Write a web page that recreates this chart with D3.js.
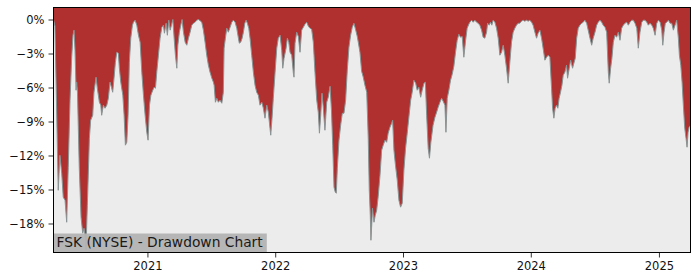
<!DOCTYPE html>
<html lang="en">
<head>
<meta charset="utf-8">
<title>FSK (NYSE) - Drawdown Chart</title>
<script src="https://cdn.jsdelivr.net/npm/d3@7"></script>
<style>
  body { margin: 0; background: #fff; }
  svg { display: block; font-family: "DejaVu Sans", sans-serif; }
</style>
</head>
<body>
<svg id="chart" width="700" height="280"></svg>
<script>
// dates as decimal years, drawdown in percent
const dateYears = [
  2020.267,2020.278,2020.290,2020.304,2020.317,2020.331,2020.343,2020.357,2020.370,2020.382,
  2020.396,2020.409,2020.419,2020.427,2020.435,2020.443,2020.448,2020.454,2020.468,2020.482,
  2020.495,2020.505,2020.515,2020.521,2020.526,2020.531,2020.547,2020.557,2020.573,2020.583,
  2020.599,2020.609,2020.625,2020.636,2020.643,2020.656,2020.669,2020.683,2020.695,2020.708,
  2020.719,2020.729,2020.740,2020.750,2020.761,2020.773,2020.781,2020.792,2020.808,2020.818,
  2020.828,2020.839,2020.849,2020.859,2020.870,2020.883,2020.891,2020.904,2020.917,2020.930,
  2020.943,2020.956,2020.969,2020.982,2020.995,2021.005,2021.016,2021.027,2021.042,2021.052,
  2021.063,2021.073,2021.086,2021.099,2021.113,2021.125,2021.133,2021.146,2021.156,2021.167,
  2021.178,2021.188,2021.199,2021.209,2021.219,2021.230,2021.238,2021.250,2021.261,2021.271,
  2021.282,2021.295,2021.308,2021.321,2021.334,2021.347,2021.360,2021.373,2021.386,2021.399,
  2021.412,2021.425,2021.438,2021.451,2021.464,2021.477,2021.490,2021.504,2021.516,2021.522,
  2021.532,2021.543,2021.555,2021.568,2021.582,2021.594,2021.600,2021.610,2021.621,2021.633,
  2021.647,2021.660,2021.672,2021.686,2021.699,2021.712,2021.719,2021.730,2021.741,2021.751,
  2021.762,2021.772,2021.782,2021.793,2021.803,2021.816,2021.829,2021.842,2021.855,2021.868,
  2021.881,2021.895,2021.907,2021.920,2021.934,2021.946,2021.959,2021.965,2021.975,2021.985,
  2021.999,2022.012,2022.024,2022.038,2022.051,2022.059,2022.069,2022.085,2022.095,2022.106,
  2022.116,2022.129,2022.142,2022.147,2022.155,2022.168,2022.181,2022.194,2022.207,2022.220,
  2022.233,2022.246,2022.259,2022.272,2022.285,2022.298,2022.311,2022.325,2022.337,2022.346,
  2022.356,2022.366,2022.376,2022.389,2022.403,2022.415,2022.429,2022.440,2022.450,2022.460,
  2022.470,2022.478,2022.486,2022.499,2022.512,2022.525,2022.538,2022.551,2022.564,2022.577,
  2022.590,2022.603,2022.616,2022.630,2022.642,2022.650,2022.663,2022.676,2022.689,2022.702,
  2022.716,2022.728,2022.736,2022.744,2022.749,2022.755,2022.761,2022.773,2022.783,2022.794,
  2022.806,2022.820,2022.833,2022.845,2022.859,2022.872,2022.884,2022.898,2022.911,2022.919,
  2022.929,2022.941,2022.955,2022.968,2022.981,2022.994,2023.007,2023.020,2023.033,2023.046,
  2023.060,2023.072,2023.085,2023.099,2023.111,2023.124,2023.138,2023.150,2023.164,2023.175,
  2023.185,2023.197,2023.207,2023.218,2023.235,2023.250,2023.263,2023.275,2023.289,2023.302,
  2023.314,2023.328,2023.336,2023.346,2023.359,2023.372,2023.385,2023.398,2023.411,2023.424,
  2023.437,2023.450,2023.463,2023.476,2023.490,2023.502,2023.515,2023.523,2023.537,2023.549,
  2023.562,2023.576,2023.588,2023.601,2023.615,2023.627,2023.640,2023.654,2023.662,2023.674,
  2023.685,2023.695,2023.705,2023.719,2023.732,2023.745,2023.758,2023.771,2023.784,2023.797,
  2023.810,2023.823,2023.836,2023.849,2023.862,2023.875,2023.888,2023.901,2023.914,2023.927,
  2023.940,2023.953,2023.967,2023.979,2023.992,2024.006,2024.018,2024.032,2024.045,2024.057,
  2024.071,2024.084,2024.096,2024.110,2024.123,2024.136,2024.149,2024.162,2024.170,2024.180,
  2024.190,2024.201,2024.211,2024.221,2024.232,2024.243,2024.253,2024.266,2024.279,2024.287,
  2024.300,2024.311,2024.326,2024.336,2024.347,2024.358,2024.370,2024.383,2024.397,2024.409,
  2024.422,2024.436,2024.448,2024.462,2024.475,2024.487,2024.501,2024.514,2024.526,2024.540,
  2024.553,2024.565,2024.579,2024.592,2024.605,2024.612,2024.623,2024.633,2024.644,2024.657,
  2024.670,2024.683,2024.696,2024.709,2024.722,2024.735,2024.748,2024.761,2024.774,2024.788,
  2024.800,2024.813,2024.827,2024.839,2024.852,2024.866,2024.878,2024.892,2024.905,2024.917,
  2024.931,2024.944,2024.956,2024.970,2024.983,2024.996,2025.009,2025.022,2025.030,2025.040,
  2025.050,2025.061,2025.074,2025.087,2025.100,2025.113,2025.126,2025.139,2025.152,2025.160,
  2025.171,2025.181,2025.191,2025.202,2025.212,2025.220,2025.228,2025.236,2025.247
];

const drawdownPct = [
  0,-0.59,-7.12,-15.07,-11.98,-13.56,-15.68,-15.95,-17.89,-13.04,
  -7.12,-3.33,-1.39,-0.94,-2.71,-6.24,-5.53,-6.42,-13.04,-17.45,
  -18.86,-18.42,-19.21,-20.36,-18.16,-16.39,-10.48,-8.89,-8.45,-6.42,
  -5.09,-6.06,-7.3,-7.56,-8.45,-7.56,-7.83,-7.56,-6.95,-5.53,
  -5.98,-6.42,-5.09,-3.77,-2.89,-2.97,-4.3,-5.53,-6.68,-8.45,
  -11.09,-10.83,-8.45,-3.77,-1.65,-0.5,-0.24,-0.06,-0.5,-1.39,
  -2.0,-4.65,-6.68,-8.45,-9.95,-10.65,-7.56,-6.68,-6.24,-5.98,
  -6.06,-4.65,-3.15,-1.65,-0.68,-0.5,-1.21,-0.33,-1.39,-0.06,
  -0.94,-0.5,0,-1.65,-3.15,-4.3,-2.27,-1.12,-0.5,0,
  -1.12,-2.0,-2.27,-1.65,-1.12,-0.5,-0.33,-0.24,-0.06,0,
  -0.1,-0.24,-0.94,-2.0,-3.15,-4.03,-4.65,-5.18,-5.53,-5.8,
  -7.3,-6.95,-7.3,-7.12,-7.39,-6.42,-2.53,-1.65,-0.77,-1.12,
  -0.68,-0.24,-0.06,-0.24,-0.77,-1.65,-2.09,-2.0,-1.65,-1.12,
  -0.33,-0.06,-0.33,-0.77,-1.65,-3.15,-4.65,-5.8,-6.42,-6.68,
  -7.56,-7.3,-7.83,-8.71,-7.56,-8.18,-9.59,-10.21,-8.71,-6.95,
  -4.65,-2.53,-1.65,-1.39,-2.71,-4.3,-3.42,-2.53,-1.65,-2.0,
  -2.89,-3.15,-4.74,-5.09,-2.09,-1.12,-1.5,-2.89,-0.94,-0.68,
  -0.41,-0.24,-0.59,-0.77,-0.86,-2.0,-4.65,-7.12,-8.18,-10.03,
  -8.45,-6.5,-7.74,-9.77,-7.3,-6.86,-5.89,-8.0,-11.09,-14.8,
  -15.24,-15.33,-13.12,-10.65,-9.33,-8.27,-8.27,-7.12,-4.47,-2.44,
  -1.39,-0.68,-0.33,-0.94,-1.5,-2.0,-2.89,-4.56,-5.09,-5.8,
  -6.42,-10.48,-15.07,-17.27,-19.48,-18.16,-16.65,-17.89,-17.27,-16.83,
  -15.6,-13.74,-11.53,-11.09,-10.65,-10.83,-10.03,-9.5,-9.15,-8.89,
  -11.53,-12.86,-14.18,-15.95,-16.56,-16.21,-13.3,-11.36,-10.03,-8.62,
  -7.12,-6.42,-5.36,-5.62,-6.24,-5.98,-6.86,-6.24,-5.62,-5.53,
  -8.45,-11.36,-12.24,-10.83,-9.33,-8.62,-8.18,-7.74,-7.3,-6.95,
  -7.21,-7.56,-9.95,-6.95,-6.24,-5.36,-4.83,-4.12,-2.89,-1.83,
  -1.3,-1.56,-1.5,-3.33,-1.83,-0.77,-0.41,-0.24,-0.06,-0.24,
  -0.06,-0.24,-0.33,-0.5,-0.94,-1.56,-1.65,-1.12,-0.33,-0.5,
  -0.24,-0.5,-0.06,-0.24,-0.77,-1.65,-3.15,-2.89,-2.27,-3.15,
  -4.3,-5.62,-3.77,-2.0,-1.12,-0.77,-0.5,-0.33,-0.33,-0.15,
  -0.06,-0.15,-0.06,-0.15,-0.06,-0.24,-0.5,-1.12,-1.65,-1.21,
  -0.94,-1.65,-2.53,-3.59,-3.33,-3.15,-3.33,-6.06,-7.83,-8.71,
  -7.83,-7.56,-7.83,-6.95,-6.42,-5.8,-4.92,-4.65,-4.03,-5.18,
  -4.3,-3.59,-4.3,-3.86,-3.42,-1.65,-0.77,-0.5,-0.33,-0.24,
  -0.06,-0.33,-0.94,-1.65,-2.27,-1.65,-1.12,-0.5,-0.24,-0.06,
  -0.24,-0.5,-0.68,-1.12,-4.65,-5.62,-4.3,-3.42,-2.0,-1.39,
  -1.56,-1.12,-1.83,-0.77,-0.5,-0.33,-0.24,-0.5,-0.24,-0.06,
  -0.06,-0.33,-0.77,-2.53,-1.12,-0.24,-0.06,-0.06,-0.24,-0.5,
  -0.33,-0.5,-0.77,-1.39,-0.33,-0.06,-0.24,-0.94,-2.27,-1.12,
  -0.33,-0.24,-0.06,-0.33,-0.33,-0.94,-0.5,-0.06,-1.65,-3.15,
  -4.03,-5.53,-7.56,-9.59,-10.48,-11.27,-9.95,-9.5,-9.33
];

const yTicks = [0, -3, -6, -9, -12, -15, -18];
const xTickYears = [2021, 2022, 2023, 2024, 2025];
const yLimits = [-20.56, 1.06];
const chartTitle = "FSK (NYSE) - Drawdown Chart";

function yearToDate(t) {
  const yr = Math.floor(t);
  const a = Date.UTC(yr, 0, 1), b = Date.UTC(yr + 1, 0, 1);
  return new Date(a + (t - yr) * (b - a));
}

const data = dateYears.map((t, i) => ({ date: yearToDate(t), dd: drawdownPct[i] }));

const W = 700, H = 280;
const m = { left: 53.5, right: 9.5, top: 7.5, bottom: 27.5 };

const x = d3.scaleUtc()
  .domain(d3.extent(data, d => d.date))
  .range([m.left, W - m.right]);
const y = d3.scaleLinear()
  .domain(yLimits)
  .range([H - m.bottom, m.top]);

const svg = d3.select("#chart");

svg.append("rect")
  .attr("x", m.left).attr("y", m.top)
  .attr("width", W - m.left - m.right).attr("height", H - m.top - m.bottom)
  .attr("fill", "#ececec");

// red fill from the top of the axes down to the drawdown curve
const area = d3.area()
  .x(d => x(d.date))
  .y0(m.top)
  .y1(d => y(d.dd));

svg.append("path")
  .datum(data)
  .attr("d", area)
  .attr("fill", "#b03030");

svg.append("path")
  .datum(data)
  .attr("d", d3.line().x(d => x(d.date)).y(d => y(d.dd)))
  .attr("fill", "none")
  .attr("stroke", "#8a9494")
  .attr("stroke-width", 1);

const fmtPct = d => (d < 0 ? "\u2212" : "") + Math.abs(d) + "%";

const yAxis = svg.append("g")
  .attr("transform", `translate(${m.left},0)`)
  .call(d3.axisLeft(y).tickValues(yTicks).tickFormat(fmtPct).tickSize(5).tickPadding(4));

const xAxis = svg.append("g")
  .attr("transform", `translate(0,${H - m.bottom})`)
  .call(d3.axisBottom(x)
    .tickValues(xTickYears.map(yr => new Date(Date.UTC(yr, 0, 1))))
    .tickFormat(d3.utcFormat("%Y"))
    .tickSize(5).tickPadding(4));

[yAxis, xAxis].forEach(g => {
  g.select(".domain").remove();
  g.selectAll("text").attr("font-size", 11.5).attr("fill", "#111").attr("font-family", "DejaVu Sans");
  g.selectAll("line").attr("stroke", "#000").attr("stroke-width", 0.8);
});

svg.append("rect")
  .attr("x", m.left).attr("y", m.top)
  .attr("width", W - m.left - m.right).attr("height", H - m.top - m.bottom)
  .attr("fill", "none")
  .attr("stroke", "#000")
  .attr("stroke-width", 1);

// title tag in the lower left corner
const tag = svg.append("g");
const tagBox = tag.append("rect").attr("fill", "#b3b3b3").attr("fill-opacity", 0.95);
const tagText = tag.append("text")
  .attr("x", m.left + 3)
  .attr("y", H - m.bottom - 5.5)
  .attr("font-size", 13.8)
  .attr("fill", "#1a1a1a")
  .text(chartTitle);
const bb = tagText.node().getBBox();
tagBox
  .attr("x", m.left + 0.5)
  .attr("y", H - m.bottom - 19)
  .attr("width", bb.x + bb.width + 3 - m.left)
  .attr("height", 18.5);
</script>
</body>
</html>
